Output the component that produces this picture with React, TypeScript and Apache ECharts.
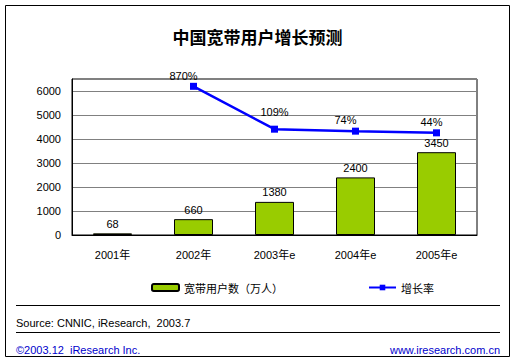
import React, { useEffect, useRef } from "react";
import * as echarts from "echarts";

const categories = ["2001年", "2002年", "2003年e", "2004年e", "2005年e"];
const users = [68, 660, 1380, 2400, 3450];
const growth: (number | null)[] = [null, 870, 109, 74, 44];
const growthLabels = ["", "870%", "109%", "74%", "44%"];
const labelOffsets = [[0, 0], [-10, 2], [0, -5], [-10, 1], [-5, 1]];

const FONT = "Liberation Sans, Noto Sans CJK SC, sans-serif";
const CJK = "Noto Sans CJK SC, sans-serif";

export default function App() {
  const ref = useRef<HTMLDivElement>(null);
  useEffect(() => {
    if (!ref.current) return;
    const chart = echarts.init(ref.current, null, { renderer: "svg" });
    chart.setOption({
      animation: false,
      backgroundColor: "#ffffff",
      textStyle: { fontFamily: FONT },
      title: {
        text: "中国宽带用户增长预测",
        left: "center",
        top: 23,
        textStyle: { fontFamily: CJK, fontSize: 17, fontWeight: "bold", color: "#000" },
      },
      grid: {
        left: 72,
        top: 79,
        right: 38,
        bottom: 127,
        show: true,
        borderColor: "#000",
        borderWidth: 1,
      },
      legend: [
        {
          data: ["宽带用户数（万人）"],
          left: 146,
          top: 277,
          itemWidth: 27,
          itemHeight: 7,
          itemGap: 5,
          textStyle: { fontFamily: CJK, fontSize: 11, color: "#000" },
        },
        {
          data: ["增长率"],
          left: 363,
          top: 277,
          itemWidth: 27,
          itemHeight: 7,
          textStyle: { fontFamily: CJK, fontSize: 11, color: "#000" },
        },
      ],
      xAxis: {
        type: "category",
        data: categories,
        axisLine: { lineStyle: { color: "#000" } },
        axisTick: { show: false },
        axisLabel: { color: "#000", fontSize: 11, margin: 14, fontFamily: FONT },
      },
      yAxis: [
        {
          type: "value",
          min: 0,
          max: 6500,
          interval: 1000,
          axisLine: { show: true, lineStyle: { color: "#000" } },
          axisTick: { show: false },
          axisLabel: {
            color: "#000",
            fontSize: 11,
            margin: 11,
            showMaxLabel: false,
            formatter: (v: number) => (v > 6000 ? "" : String(v)),
          },
          splitLine: { lineStyle: { color: "#808080", width: 1 } },
        },
        {
          type: "value",
          min: -1770,
          max: 1000,
          show: false,
          splitLine: { show: false },
        },
      ],
      series: [
        {
          name: "宽带用户数（万人）",
          type: "bar",
          data: users,
          barWidth: 39,
          itemStyle: { color: "#99CC00", borderColor: "#000", borderWidth: 1 },
          label: { show: true, position: "top", color: "#000", fontSize: 11, distance: 4 },
        },
        {
          name: "增长率",
          type: "line",
          yAxisIndex: 1,
          data: growth.map((v, i) => ({
            value: v,
            label: {
              show: v !== null,
              position: "top",
              offset: labelOffsets[i],
              formatter: growthLabels[i],
            },
          })),
          lineStyle: { color: "#0000FF", width: 2.5 },
          itemStyle: { color: "#0000FF" },
          symbol: "rect",
          symbolSize: 7,
          connectNulls: false,
          label: { show: true, position: "top", color: "#000", fontSize: 11, distance: 3 },
        },
      ],
      graphic: [
        {
          type: "rect",
          shape: { x: 5.5, y: 5.5, width: 504, height: 351 },
          style: { fill: "none", stroke: "#000", lineWidth: 1 },
          silent: true,
        },
        {
          type: "line",
          shape: { x1: 16, y1: 305.5, x2: 500, y2: 305.5 },
          style: { stroke: "#000", lineWidth: 1 },
        },
        {
          type: "line",
          shape: { x1: 16, y1: 332.5, x2: 500, y2: 332.5 },
          style: { stroke: "#000", lineWidth: 1 },
        },
        {
          type: "text",
          left: 16,
          top: 317,
          style: { text: "Source: CNNIC, iResearch,  2003.7", font: `11px ${FONT}`, fill: "#000" },
        },
        {
          type: "text",
          left: 16,
          top: 344,
          style: { text: "©2003.12  iResearch Inc.", font: `11px ${FONT}`, fill: "#0000CC" },
        },
        {
          type: "text",
          right: 15,
          top: 344,
          style: { text: "www.iresearch.com.cn", font: `11px ${FONT}`, fill: "#0000CC" },
        },
      ],
    });
    return () => chart.dispose();
  }, []);
  return (
    <div
      ref={ref}
      style={{ position: "fixed", left: 0, top: 0, width: 515, height: 362 }}
    />
  );
}
